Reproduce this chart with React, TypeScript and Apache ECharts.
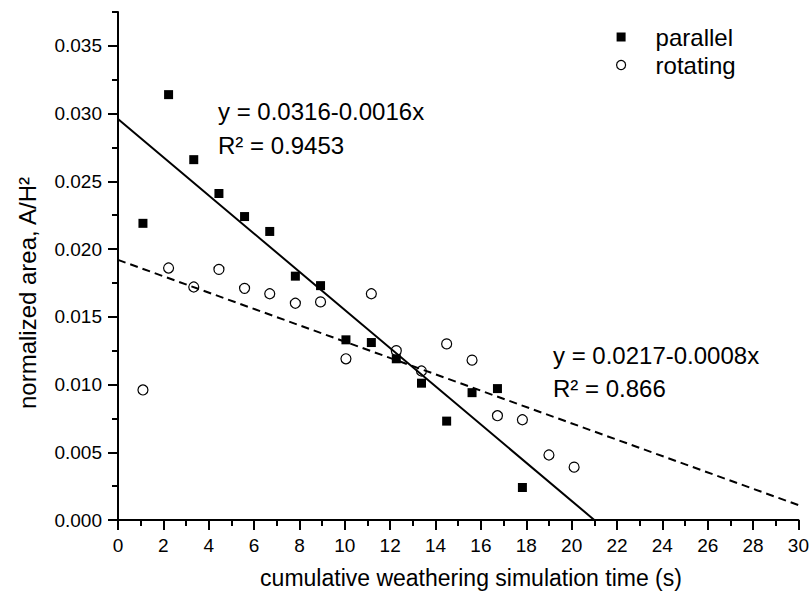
import React, { useEffect, useRef } from "react";
import * as echarts from "echarts";

const timeParallel = [1.10, 2.23, 3.34, 4.45, 5.58, 6.69, 7.82, 8.93, 10.05, 11.17, 12.27, 13.38, 14.49, 15.61, 16.73, 17.83];
const areaParallel = [0.0219, 0.0314, 0.0266, 0.0241, 0.0224, 0.0213, 0.0180, 0.0173, 0.0133, 0.0131, 0.0119, 0.0101, 0.0073, 0.0094, 0.0097, 0.0024];
const timeRotating = [1.10, 2.23, 3.34, 4.45, 5.58, 6.69, 7.82, 8.93, 10.05, 11.17, 12.27, 13.38, 14.49, 15.61, 16.73, 17.83, 19.0, 20.11];
const areaRotating = [0.0096, 0.0186, 0.0172, 0.0185, 0.0171, 0.0167, 0.0160, 0.0161, 0.0119, 0.0167, 0.0125, 0.0110, 0.0130, 0.0118, 0.0077, 0.0074, 0.0048, 0.0039];
const fitParallel = [[0, 0.0296], [21.0, 0]];
const fitRotating = [[0, 0.0192], [30, 0.0011]];
const yMajorTicks = [0, 0.005, 0.01, 0.015, 0.02, 0.025, 0.03, 0.035];
const seriesNames = ["parallel", "rotating"];
const fitTextParallel = ["y = 0.0316-0.0016x", "R\u00b2 = 0.9453"];
const fitTextRotating = ["y = 0.0217-0.0008x", "R\u00b2 = 0.866"];
const xTitle = "cumulative weathering simulation time (s)";
const yTitle = "normalized area, A/H\u00b2";

const FONT = "Arial, 'Liberation Sans', sans-serif";

export default function App() {
  const ref = useRef<HTMLDivElement>(null);
  useEffect(() => {
    const chart = echarts.init(ref.current!, null, { renderer: "svg" });
    const isMajor = (v: number) => Math.abs(v / 0.005 - Math.round(v / 0.005)) < 1e-6;
    chart.setOption({
      animation: false,
      backgroundColor: "#fff",
      grid: { left: 118, right: 11, top: 12, bottom: 75 },
      legend: {
        orient: "vertical",
        left: 616,
        top: 25,
        padding: 0,
        itemWidth: 9,
        itemHeight: 9,
        itemGap: 4,
        textStyle: { fontFamily: FONT, fontSize: 24, color: "#000", lineHeight: 24, padding: [0, 0, 0, 25] },
        data: [
          { name: seriesNames[0], icon: "rect", itemStyle: { color: "#000", opacity: 1 } },
          { name: seriesNames[1], icon: "circle", itemStyle: { color: "#fff", borderColor: "#000", borderWidth: 1.2, opacity: 1 } },
        ],
      },
      xAxis: {
        type: "value",
        min: 0,
        max: 30,
        interval: 2,
        axisLine: { show: true, lineStyle: { color: "#000", width: 2 } },
        axisTick: { show: true, inside: false, length: 10, lineStyle: { color: "#000", width: 2 } },
        minorTick: { show: true, splitNumber: 2, length: 6, lineStyle: { color: "#000", width: 2 } },
        axisLabel: { fontFamily: FONT, fontSize: 19, color: "#000", margin: 16 },
        splitLine: { show: false },
      },
      yAxis: [
        {
          type: "value",
          min: 0,
          max: 0.0375,
          interval: 0.0025,
          axisLine: { show: true, lineStyle: { color: "#000", width: 2 } },
          axisTick: { show: true, inside: false, length: 6, lineStyle: { color: "#000", width: 2 } },
          axisLabel: {
            fontFamily: FONT,
            fontSize: 19,
            color: "#000",
            margin: 16,
            formatter: (v: number) => (isMajor(v) ? v.toFixed(3) : ""),
          },
          splitLine: { show: false },
        },
        {
          type: "value",
          position: "left",
          offset: 0,
          min: 0,
          max: 0.0375,
          interval: 0.0025,
          axisLine: { show: false },
          axisTick: { show: true, inside: false, length: 10, customValues: yMajorTicks, lineStyle: { color: "#000", width: 2 } },
          axisLabel: { show: false },
          splitLine: { show: false },
        },
      ],
      series: [
        {
          type: "line",
          data: fitParallel,
          yAxisIndex: 0,
          symbol: "none",
          silent: true,
          lineStyle: { color: "#000", width: 2 },
          z: 1,
        },
        {
          type: "line",
          data: fitRotating,
          yAxisIndex: 0,
          symbol: "none",
          silent: true,
          lineStyle: { color: "#000", width: 2, type: [8, 5] },
          z: 1,
        },
        {
          name: seriesNames[0],
          type: "scatter",
          yAxisIndex: 0,
          symbol: "rect",
          symbolSize: 9,
          itemStyle: { color: "#000", opacity: 1 },
          data: timeParallel.map((t, i) => [t, areaParallel[i]]),
          z: 3,
        },
        {
          name: seriesNames[1],
          type: "scatter",
          yAxisIndex: 0,
          symbol: "circle",
          symbolSize: 10,
          itemStyle: { color: "rgba(255,255,255,0)", borderColor: "#000", borderWidth: 1.2, opacity: 1 },
          data: timeRotating.map((t, i) => [t, areaRotating[i]]),
          z: 3,
        },
      ],
      graphic: [
        { type: "text", left: 218, top: 99, style: { text: fitTextParallel[0], font: `24px ${FONT}`, fill: "#000" } },
        { type: "text", left: 218, top: 133, style: { text: fitTextParallel[1], font: `24px ${FONT}`, fill: "#000" } },
        { type: "text", left: 553, top: 343, style: { text: fitTextRotating[0], font: `24px ${FONT}`, fill: "#000" } },
        { type: "text", left: 553, top: 376, style: { text: fitTextRotating[1], font: `24px ${FONT}`, fill: "#000" } },
        {
          type: "text",
          x: 471,
          y: 578,
          style: { text: xTitle, font: `23px ${FONT}`, fill: "#000", align: "center", verticalAlign: "middle" },
        },
        {
          type: "text",
          x: 27,
          y: 293,
          rotation: Math.PI / 2,
          style: { text: yTitle, font: `24px ${FONT}`, fill: "#000", align: "center", verticalAlign: "middle" },
        },
      ],
    });
    return () => chart.dispose();
  }, []);
  return <div ref={ref} style={{ position: "fixed", left: 0, top: 0, width: 812, height: 595 }} />;
}
